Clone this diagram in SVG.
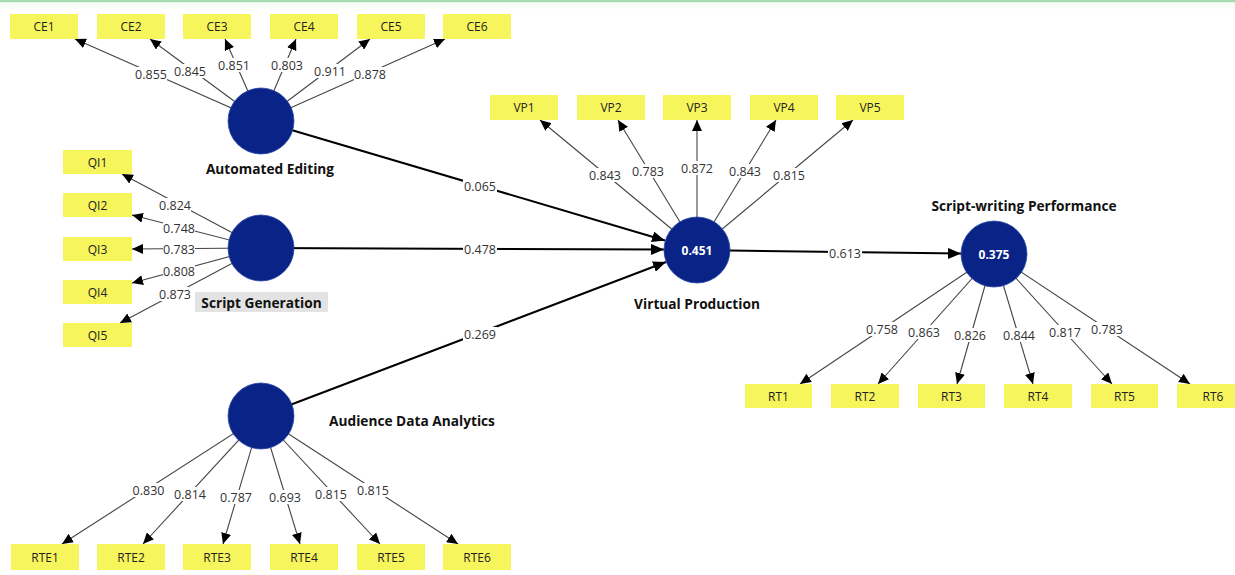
<svg xmlns="http://www.w3.org/2000/svg" width="1235" height="575" viewBox="0 0 1235 575">
<style>
.box{fill:#f7f55c}
.bt{font-family:"Open Sans","Liberation Sans",sans-serif;font-size:12px;fill:#222;text-anchor:middle;dominant-baseline:central}
.lv{fill:#0a2387;stroke:#2a48a8;stroke-width:0.8}
.lt{font-family:"Open Sans","Liberation Sans",sans-serif;font-size:13.7px;font-weight:bold;fill:#111;text-anchor:middle;dominant-baseline:central}
.r2{font-family:"Open Sans","Liberation Sans",sans-serif;font-size:12px;font-weight:bold;fill:#fff;text-anchor:middle;dominant-baseline:central}
.m{stroke:#444;stroke-width:1.1;fill:none;marker-end:url(#ah)}
.s{stroke:#000;stroke-width:2;fill:none;marker-end:url(#ahs)}
.bg{fill:#fff}
.n{font-family:"Open Sans","Liberation Sans",sans-serif;font-size:12.5px;fill:#333;text-anchor:middle;dominant-baseline:central}
</style>
<defs>
<marker id="ah" markerUnits="userSpaceOnUse" markerWidth="11" markerHeight="10" refX="11" refY="5" orient="auto"><path d="M0,0 L11,5 L0,10 z" fill="#000"/></marker>
<marker id="ahs" markerUnits="userSpaceOnUse" markerWidth="13" markerHeight="11" refX="13" refY="5.5" orient="auto"><path d="M0,0 L13,5.5 L0,11 z" fill="#000"/></marker>
</defs>
<rect x="0" y="0" width="1235" height="2.5" fill="#a6dcae"/>
<rect x="0" y="2.5" width="1235" height="6" fill="#f6fcf6"/>
<g id="connectors">
<line class="m" x1="261" y1="121" x2="75" y2="39"/>
<line class="m" x1="261" y1="121" x2="150" y2="39"/>
<line class="m" x1="261" y1="121" x2="225" y2="39"/>
<line class="m" x1="261" y1="121" x2="296" y2="39"/>
<line class="m" x1="261" y1="121" x2="370" y2="39"/>
<line class="m" x1="261" y1="121" x2="445" y2="39"/>
<line class="m" x1="261" y1="248" x2="122" y2="174"/>
<line class="m" x1="261" y1="248" x2="132" y2="215"/>
<line class="m" x1="261" y1="248" x2="132" y2="249"/>
<line class="m" x1="261" y1="248" x2="132" y2="283"/>
<line class="m" x1="261" y1="248" x2="120" y2="323"/>
<line class="m" x1="261" y1="416" x2="62" y2="544"/>
<line class="m" x1="261" y1="416" x2="143" y2="544"/>
<line class="m" x1="261" y1="416" x2="223" y2="544"/>
<line class="m" x1="261" y1="416" x2="300" y2="544"/>
<line class="m" x1="261" y1="416" x2="380" y2="544"/>
<line class="m" x1="261" y1="416" x2="458" y2="544"/>
<line class="m" x1="697" y1="250" x2="540" y2="120"/>
<line class="m" x1="697" y1="250" x2="618" y2="120"/>
<line class="m" x1="697" y1="250" x2="697" y2="120"/>
<line class="m" x1="697" y1="250" x2="776" y2="120"/>
<line class="m" x1="697" y1="250" x2="853" y2="120"/>
<line class="m" x1="994" y1="254" x2="800" y2="384"/>
<line class="m" x1="994" y1="254" x2="878" y2="384"/>
<line class="m" x1="994" y1="254" x2="957" y2="384"/>
<line class="m" x1="994" y1="254" x2="1033" y2="384"/>
<line class="m" x1="994" y1="254" x2="1112" y2="384"/>
<line class="m" x1="994" y1="254" x2="1190" y2="384"/>
<line class="s" x1="261" y1="121" x2="665" y2="240.5"/>
<line class="s" x1="261" y1="248" x2="664" y2="249.5"/>
<line class="s" x1="261" y1="416" x2="666" y2="262"/>
<line class="s" x1="697" y1="250" x2="961" y2="253.6"/>
<g id="label-bg">
<rect class="bg" x="135" y="67" width="32" height="14"/>
<rect class="bg" x="174" y="64" width="32" height="14"/>
<rect class="bg" x="218" y="58" width="32" height="14"/>
<rect class="bg" x="271" y="58" width="32" height="14"/>
<rect class="bg" x="314" y="64" width="32" height="14"/>
<rect class="bg" x="354" y="67" width="32" height="14"/>
<rect class="bg" x="159" y="198" width="32" height="14"/>
<rect class="bg" x="163" y="221" width="32" height="14"/>
<rect class="bg" x="163" y="242" width="32" height="14"/>
<rect class="bg" x="163" y="264" width="32" height="14"/>
<rect class="bg" x="159" y="287" width="32" height="14"/>
<rect class="bg" x="132" y="483" width="33" height="14"/>
<rect class="bg" x="174" y="487" width="32" height="14"/>
<rect class="bg" x="220" y="490" width="32" height="14"/>
<rect class="bg" x="269" y="490" width="32" height="14"/>
<rect class="bg" x="315" y="487" width="32" height="14"/>
<rect class="bg" x="357" y="483" width="32" height="14"/>
<rect class="bg" x="589" y="168" width="32" height="14"/>
<rect class="bg" x="632" y="164" width="32" height="14"/>
<rect class="bg" x="681" y="161" width="32" height="14"/>
<rect class="bg" x="729" y="164" width="32" height="14"/>
<rect class="bg" x="773" y="168" width="32" height="14"/>
<rect class="bg" x="866" y="322" width="32" height="14"/>
<rect class="bg" x="908" y="325" width="32" height="14"/>
<rect class="bg" x="954" y="328" width="32" height="14"/>
<rect class="bg" x="1003" y="328" width="32" height="14"/>
<rect class="bg" x="1049" y="325" width="32" height="14"/>
<rect class="bg" x="1091" y="322" width="32" height="14"/>
<rect class="bg" x="463" y="179" width="34" height="14"/>
<rect class="bg" x="463" y="242" width="34" height="14"/>
<rect class="bg" x="463" y="327" width="34" height="14"/>
<rect class="bg" x="828" y="246" width="34" height="14"/>
</g>
<text class="n" x="151" y="74">0.855</text>
<text class="n" x="190" y="71">0.845</text>
<text class="n" x="234" y="65">0.851</text>
<text class="n" x="287" y="65">0.803</text>
<text class="n" x="330" y="71">0.911</text>
<text class="n" x="370" y="74">0.878</text>
<text class="n" x="175" y="205">0.824</text>
<text class="n" x="179" y="228">0.748</text>
<text class="n" x="179" y="249">0.783</text>
<text class="n" x="179" y="271">0.808</text>
<text class="n" x="175" y="294">0.873</text>
<text class="n" x="148.5" y="490">0.830</text>
<text class="n" x="190" y="494">0.814</text>
<text class="n" x="236" y="497">0.787</text>
<text class="n" x="285" y="497">0.693</text>
<text class="n" x="331" y="494">0.815</text>
<text class="n" x="373" y="490">0.815</text>
<text class="n" x="605" y="175">0.843</text>
<text class="n" x="648" y="171">0.783</text>
<text class="n" x="697" y="168">0.872</text>
<text class="n" x="745" y="171">0.843</text>
<text class="n" x="789" y="175">0.815</text>
<text class="n" x="882" y="329">0.758</text>
<text class="n" x="924" y="332">0.863</text>
<text class="n" x="970" y="335">0.826</text>
<text class="n" x="1019" y="335">0.844</text>
<text class="n" x="1065" y="332">0.817</text>
<text class="n" x="1107" y="329">0.783</text>
<text class="n" x="480" y="186">0.065</text>
<text class="n" x="480" y="249">0.478</text>
<text class="n" x="480" y="334">0.269</text>
<text class="n" x="845" y="253">0.613</text>
</g>
<g id="CE1"><rect class="box" x="10" y="14" width="68" height="25"/><text class="bt" x="44" y="26.5">CE1</text></g>
<g id="CE2"><rect class="box" x="97" y="14" width="68" height="25"/><text class="bt" x="131" y="26.5">CE2</text></g>
<g id="CE3"><rect class="box" x="183" y="14" width="68" height="25"/><text class="bt" x="217" y="26.5">CE3</text></g>
<g id="CE4"><rect class="box" x="270" y="14" width="68" height="25"/><text class="bt" x="304" y="26.5">CE4</text></g>
<g id="CE5"><rect class="box" x="357" y="14" width="68" height="25"/><text class="bt" x="391" y="26.5">CE5</text></g>
<g id="CE6"><rect class="box" x="443" y="14" width="68" height="25"/><text class="bt" x="477" y="26.5">CE6</text></g>
<g id="QI1"><rect class="box" x="63" y="150" width="69" height="24"/><text class="bt" x="97.5" y="162">QI1</text></g>
<g id="QI2"><rect class="box" x="63" y="193" width="69" height="24"/><text class="bt" x="97.5" y="205">QI2</text></g>
<g id="QI3"><rect class="box" x="63" y="237" width="69" height="24"/><text class="bt" x="97.5" y="249">QI3</text></g>
<g id="QI4"><rect class="box" x="63" y="280" width="69" height="24"/><text class="bt" x="97.5" y="292">QI4</text></g>
<g id="QI5"><rect class="box" x="63" y="323" width="69" height="24"/><text class="bt" x="97.5" y="335">QI5</text></g>
<g id="RTE1"><rect class="box" x="11" y="544" width="68" height="26"/><text class="bt" x="45" y="557">RTE1</text></g>
<g id="RTE2"><rect class="box" x="97" y="544" width="68" height="26"/><text class="bt" x="131" y="557">RTE2</text></g>
<g id="RTE3"><rect class="box" x="183" y="544" width="68" height="26"/><text class="bt" x="217" y="557">RTE3</text></g>
<g id="RTE4"><rect class="box" x="270" y="544" width="68" height="26"/><text class="bt" x="304" y="557">RTE4</text></g>
<g id="RTE5"><rect class="box" x="357" y="544" width="68" height="26"/><text class="bt" x="391" y="557">RTE5</text></g>
<g id="RTE6"><rect class="box" x="443" y="544" width="68" height="26"/><text class="bt" x="477" y="557">RTE6</text></g>
<g id="VP1"><rect class="box" x="490" y="95" width="68" height="25"/><text class="bt" x="524" y="107.5">VP1</text></g>
<g id="VP2"><rect class="box" x="577" y="95" width="68" height="25"/><text class="bt" x="611" y="107.5">VP2</text></g>
<g id="VP3"><rect class="box" x="663" y="95" width="68" height="25"/><text class="bt" x="697" y="107.5">VP3</text></g>
<g id="VP4"><rect class="box" x="750" y="95" width="68" height="25"/><text class="bt" x="784" y="107.5">VP4</text></g>
<g id="VP5"><rect class="box" x="836" y="95" width="68" height="25"/><text class="bt" x="870" y="107.5">VP5</text></g>
<g id="RT1"><rect class="box" x="745" y="384" width="67" height="24"/><text class="bt" x="778.5" y="396">RT1</text></g>
<g id="RT2"><rect class="box" x="831" y="384" width="68" height="24"/><text class="bt" x="865" y="396">RT2</text></g>
<g id="RT3"><rect class="box" x="918" y="384" width="67" height="24"/><text class="bt" x="951.5" y="396">RT3</text></g>
<g id="RT4"><rect class="box" x="1004" y="384" width="68" height="24"/><text class="bt" x="1038" y="396">RT4</text></g>
<g id="RT5"><rect class="box" x="1091" y="384" width="67" height="24"/><text class="bt" x="1124.5" y="396">RT5</text></g>
<g id="RT6"><rect class="box" x="1177" y="384" width="68" height="24"/><text class="bt" x="1213" y="396">RT6</text></g>
<g id="AutomatedEditing"><circle class="lv" cx="261" cy="121" r="33"/><text class="lt" x="270" y="168">Automated Editing</text></g>
<g id="ScriptGeneration"><circle class="lv" cx="261" cy="248" r="33"/><rect x="195" y="292" width="133" height="20" fill="#e3e3e3"/><text class="lt" x="261.5" y="302">Script Generation</text></g>
<g id="AudienceDataAnalytics"><circle class="lv" cx="261" cy="416" r="33"/><text class="lt" x="412" y="420">Audience Data Analytics</text></g>
<g id="VirtualProduction"><circle class="lv" cx="697" cy="250" r="33"/><text class="r2" x="697" y="250">0.451</text><text class="lt" x="697" y="303">Virtual Production</text></g>
<g id="ScriptWritingPerformance"><circle class="lv" cx="994" cy="254" r="33"/><text class="r2" x="994" y="254">0.375</text><text class="lt" x="1024" y="205">Script-writing Performance</text></g>
</svg>
